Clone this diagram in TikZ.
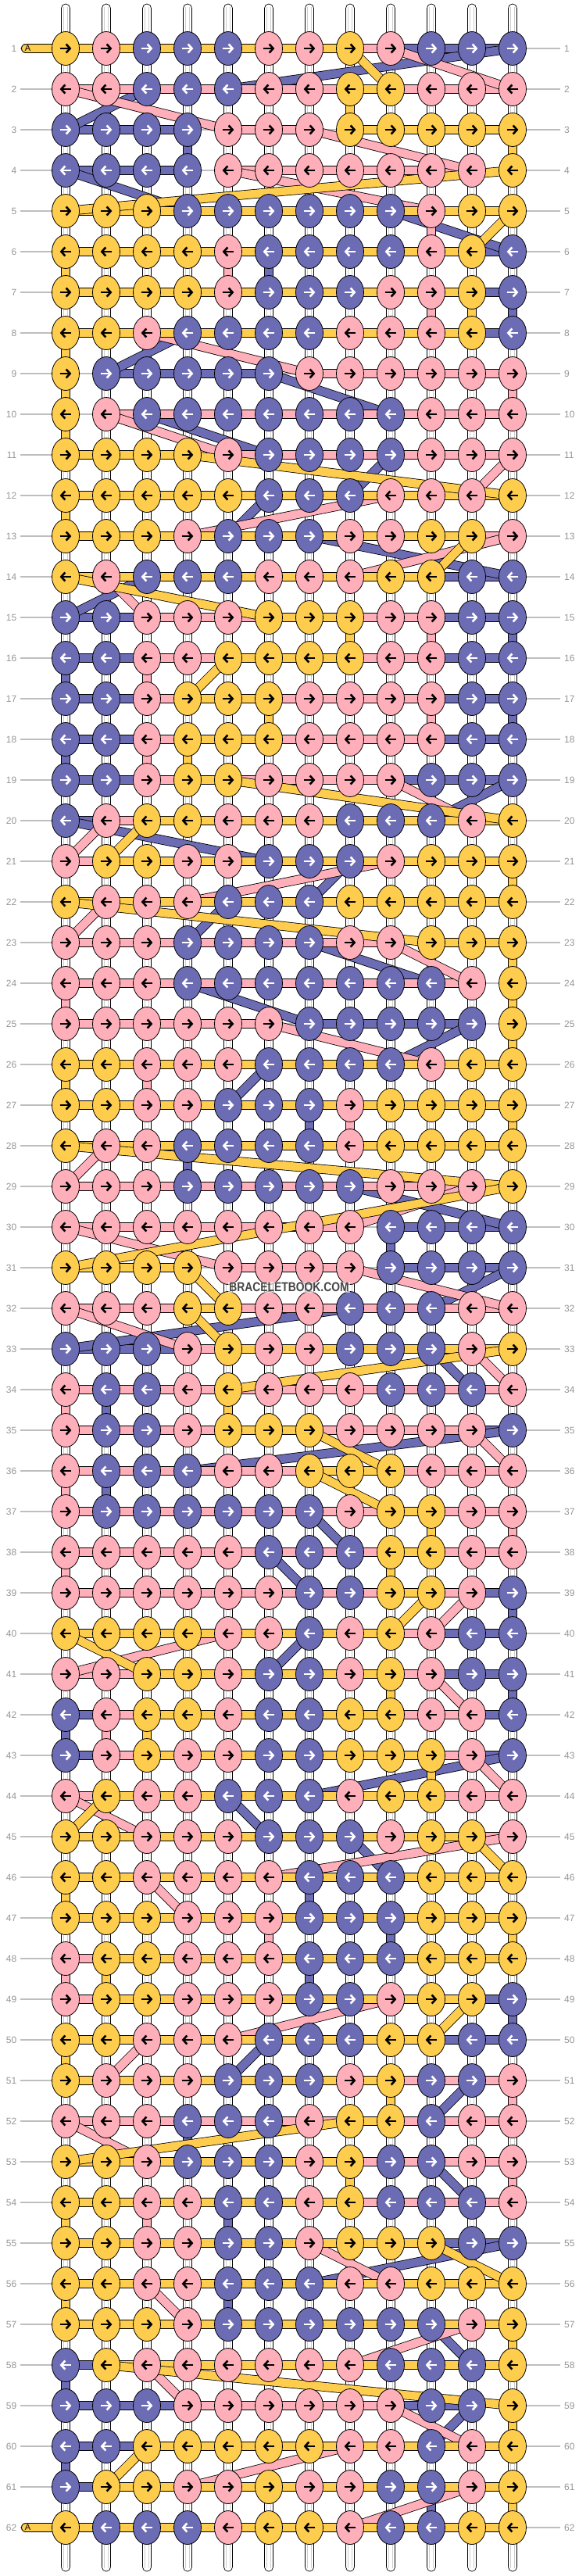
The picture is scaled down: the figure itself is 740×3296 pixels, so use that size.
\documentclass[tikz,border=0pt]{standalone}
\usepackage{fontspec}
\setmainfont{Liberation Sans}
\usetikzlibrary{arrows.meta,shapes.geometric}
\definecolor{cY}{RGB}{255,205,78}
\definecolor{cP}{RGB}{255,175,186}
\definecolor{cB}{RGB}{108,108,181}
\colorlet{aY}{black}\colorlet{aP}{black}\colorlet{aB}{white}
\definecolor{labgray}{RGB}{150,150,150}
\definecolor{linegray}{RGB}{190,190,190}
\definecolor{tubegray}{RGB}{205,205,205}
\definecolor{wmgray}{RGB}{70,70,70}
\pgfdeclarelayer{back}\pgfdeclarelayer{strands}
\pgfsetlayers{back,strands,main}
\newcommand\defknotrow[2]{\expandafter\def\csname KR#1\endcsname{#2}}
\newcommand\drawstrand[3]{%
  \draw[strandout] (#2.center) -- (#3.center);
  \draw[strandin,#1] (#2.center) -- (#3.center);}
\newcommand\wmtext{\scalebox{0.84}[1]{BRACELETBOOK.COM}}
\defknotrow{1}{Y,P,B,B,B,P,P,Y,P,B,B,B}
\defknotrow{2}{P,P,B,B,B,P,P,Y,Y,P,P,P}
\defknotrow{3}{B,B,B,B,P,P,P,Y,Y,Y,Y,Y}
\defknotrow{4}{B,B,B,B,P,P,P,P,P,P,P,Y}
\defknotrow{5}{Y,Y,Y,B,B,B,B,B,B,P,Y,Y}
\defknotrow{6}{Y,Y,Y,Y,P,B,B,B,B,P,Y,B}
\defknotrow{7}{Y,Y,Y,Y,P,B,B,B,P,P,Y,B}
\defknotrow{8}{Y,Y,P,B,B,B,B,P,P,P,Y,B}
\defknotrow{9}{Y,B,B,B,B,B,P,P,P,P,P,P}
\defknotrow{10}{Y,P,B,B,B,B,B,B,B,P,P,P}
\defknotrow{11}{Y,Y,Y,Y,P,B,B,B,B,P,P,P}
\defknotrow{12}{Y,Y,Y,Y,Y,B,B,B,P,P,P,Y}
\defknotrow{13}{Y,Y,Y,P,B,B,B,P,P,Y,Y,P}
\defknotrow{14}{Y,P,B,B,B,P,P,P,Y,Y,B,B}
\defknotrow{15}{B,B,P,P,P,Y,Y,Y,P,P,B,B}
\defknotrow{16}{B,B,P,P,Y,Y,Y,Y,P,P,B,B}
\defknotrow{17}{B,B,P,Y,Y,Y,P,P,P,P,B,B}
\defknotrow{18}{B,B,P,Y,Y,Y,P,P,P,P,B,B}
\defknotrow{19}{B,B,P,Y,Y,P,P,P,P,B,B,B}
\defknotrow{20}{B,P,Y,Y,P,P,P,B,B,B,P,Y}
\defknotrow{21}{P,Y,Y,P,P,B,B,B,P,Y,Y,Y}
\defknotrow{22}{Y,P,P,P,B,B,B,Y,Y,Y,Y,Y}
\defknotrow{23}{P,P,P,B,B,B,B,P,P,Y,Y,Y}
\defknotrow{24}{P,P,P,B,B,B,B,B,B,B,P,Y}
\defknotrow{25}{P,P,P,P,P,P,B,B,B,B,B,Y}
\defknotrow{26}{Y,Y,P,P,P,B,B,B,B,P,Y,Y}
\defknotrow{27}{Y,Y,P,P,B,B,B,P,Y,Y,Y,Y}
\defknotrow{28}{Y,P,P,B,B,B,B,P,Y,Y,Y,Y}
\defknotrow{29}{P,P,P,B,B,B,B,B,P,P,P,Y}
\defknotrow{30}{P,P,P,P,P,P,P,P,B,B,B,B}
\defknotrow{31}{Y,Y,Y,Y,P,P,P,P,B,B,B,B}
\defknotrow{32}{P,P,P,Y,Y,P,P,B,B,B,P,P}
\defknotrow{33}{B,B,B,P,Y,P,P,B,B,B,P,Y}
\defknotrow{34}{P,B,B,P,Y,P,P,P,B,B,B,P}
\defknotrow{35}{P,B,B,P,Y,Y,Y,P,P,P,P,B}
\defknotrow{36}{P,B,B,B,P,P,Y,Y,Y,P,P,P}
\defknotrow{37}{P,B,B,B,B,B,B,P,Y,Y,P,P}
\defknotrow{38}{P,P,P,P,P,B,B,B,Y,Y,P,P}
\defknotrow{39}{P,P,P,P,P,P,B,B,Y,Y,P,B}
\defknotrow{40}{Y,Y,Y,Y,P,P,B,P,Y,P,B,B}
\defknotrow{41}{P,P,Y,Y,P,B,B,P,Y,P,B,B}
\defknotrow{42}{B,P,Y,Y,P,B,B,Y,Y,P,P,B}
\defknotrow{43}{B,P,Y,P,P,B,B,Y,Y,Y,P,B}
\defknotrow{44}{P,Y,P,P,B,B,B,P,Y,Y,P,P}
\defknotrow{45}{Y,Y,P,P,P,B,B,B,P,Y,Y,P}
\defknotrow{46}{Y,Y,P,P,P,P,B,B,B,Y,Y,Y}
\defknotrow{47}{Y,Y,Y,P,P,P,B,B,B,Y,Y,Y}
\defknotrow{48}{P,Y,Y,P,P,P,B,B,B,Y,Y,Y}
\defknotrow{49}{P,Y,Y,P,P,P,B,B,P,Y,Y,B}
\defknotrow{50}{Y,Y,P,P,P,B,B,B,Y,Y,B,B}
\defknotrow{51}{Y,P,P,P,B,B,B,P,Y,B,B,P}
\defknotrow{52}{P,P,P,B,B,B,P,Y,Y,B,P,P}
\defknotrow{53}{Y,Y,P,B,B,B,P,Y,B,B,P,P}
\defknotrow{54}{Y,Y,P,P,B,B,P,Y,B,B,B,P}
\defknotrow{55}{Y,Y,P,P,B,B,P,Y,Y,Y,B,B}
\defknotrow{56}{Y,Y,P,P,B,B,B,P,P,Y,Y,Y}
\defknotrow{57}{Y,Y,Y,P,B,B,B,B,B,B,P,Y}
\defknotrow{58}{B,Y,P,P,P,P,P,P,B,B,B,Y}
\defknotrow{59}{B,B,B,P,P,P,P,P,P,B,B,Y}
\defknotrow{60}{B,B,Y,Y,Y,Y,Y,P,P,B,P,Y}
\defknotrow{61}{B,Y,Y,P,P,Y,P,P,B,B,P,Y}
\defknotrow{62}{Y,B,B,B,P,Y,Y,P,B,B,Y,Y}
\begin{document}
\begin{tikzpicture}[x=1pt,y=-1pt,
  knot/.style={ellipse,draw=black,line width=0.8pt,minimum width=35pt,minimum height=43pt,inner sep=0pt},
  arr/.style={line width=2.6pt,-{Straight Barb[length=5pt,width=11pt]}},
  lab/.style={font=\fontsize{12}{12}\selectfont,text=labgray,inner sep=0pt},
  rowline/.style={draw=linegray,line width=1.1pt},
  tube/.style={draw=black,fill=white,line width=0.7pt,rounded corners=5.4pt},
  tubein/.style={draw=tubegray,line width=0.6pt},
  strandout/.style={line width=12pt,draw=black},
  strandin/.style={line width=10.4pt},
  wm/.style={font=\bfseries\fontsize{16.5}{16.5}\selectfont,text=wmgray,fill=white,fill opacity=0.6,text opacity=1,inner xsep=1pt,inner ysep=1pt}]
\useasboundingbox (0,0) rectangle (740,3296);
% pass 1: first and last column of each colour in each row
\foreach \kr in {1,...,62}{%
  \foreach \X in {Y,P,B}{%
    \expandafter\xdef\csname mn\X\kr\endcsname{0}%
    \expandafter\xdef\csname mx\X\kr\endcsname{0}}%
  \expandafter\let\expandafter\krow\csname KR\kr\endcsname
  \foreach \k [count=\kc] in \krow {%
    \ifnum\csname mn\k\kr\endcsname=0\relax
      \expandafter\xdef\csname mn\k\kr\endcsname{\kc}%
    \fi
    \expandafter\xdef\csname mx\k\kr\endcsname{\kc}%
  }%
}
\begin{pgfonlayer}{back}
\fill[white] (0,0) rectangle (740,3296);
\foreach \kc in {1,...,12}{%
  \pgfmathsetmacro\xx{84+52*(\kc-1)}
  \coordinate (tt-\kc) at (\xx,5);
  \coordinate (tb-\kc) at (\xx,3290);
  \draw[tube] ([xshift=-5.5pt]tt-\kc) rectangle ([xshift=5.5pt]tb-\kc);
  \draw[tubein] ([xshift=-2.6pt,yshift=-4pt]tt-\kc) -- ([xshift=-2.6pt,yshift=4pt]tb-\kc);
  \draw[tubein] ([xshift=2.6pt,yshift=-4pt]tt-\kc) -- ([xshift=2.6pt,yshift=4pt]tb-\kc);
}
\end{pgfonlayer}
% row labels and row lines
\foreach \kr in {1,...,62}{%
  \pgfmathsetmacro\yy{62+52*(\kr-1)}
  \node[lab,anchor=east] (ll-\kr) at (21.5,\yy) {\kr};
  \node[lab,anchor=west] (rl-\kr) at (722,\yy) {\kr};
  \begin{pgfonlayer}{back}
  \draw[rowline] ([xshift=4.5pt]ll-\kr.east) -- ([xshift=-5pt]rl-\kr.west);
  \end{pgfonlayer}
}
% knots
\foreach \kr in {1,...,62}{%
  \expandafter\let\expandafter\krow\csname KR\kr\endcsname
  \foreach \k [count=\kc] in \krow {%
    \node[knot,fill=c\k] (k-\kr-\kc) at ({84+52*(\kc-1)},{62+52*(\kr-1)}) {};
    \ifodd\kr\relax
      \draw[arr,a\k] ([xshift=-7.4pt]k-\kr-\kc.center) -- ([xshift=7.4pt]k-\kr-\kc.center);
    \else
      \draw[arr,a\k] ([xshift=7.4pt]k-\kr-\kc.center) -- ([xshift=-7.4pt]k-\kr-\kc.center);
    \fi
  }%
}
\coordinate (tabtop) at (33,62);
\coordinate (tabbot) at (33,3234);
\node[font=\fontsize{11}{11}\selectfont,inner sep=0pt] (tA1) at (35.5,62) {A};
\node[font=\fontsize{11}{11}\selectfont,inner sep=0pt] (tA62) at (35.5,3234) {A};
% threads
\begin{pgfonlayer}{strands}
\foreach \X in {B,P,Y}{%
  \xdef\lastk{}%
  \foreach \kr in {1,...,62}{%
    \edef\kmn{\csname mn\X\kr\endcsname}%
    \edef\kmx{\csname mx\X\kr\endcsname}%
    \ifnum\kmn>0\relax
      \ifnum\kmn<\kmx\relax \drawstrand{c\X}{k-\kr-\kmn}{k-\kr-\kmx}\fi
      \ifodd\kr\relax \edef\kfst{\kmn}\edef\klst{\kmx}\else \edef\kfst{\kmx}\edef\klst{\kmn}\fi
      \ifx\lastk\empty\else \drawstrand{c\X}{\lastk}{k-\kr-\kfst}\fi
      \xdef\lastk{k-\kr-\klst}%
    \fi
  }%
}
\draw[strandout,line cap=round] (tabtop) -- (k-1-1.center);
\draw[strandin,cY,line cap=round] (tabtop) -- (k-1-1.center);
\draw[strandout,line cap=round] (tabbot) -- (k-62-1.center);
\draw[strandin,cY,line cap=round] (tabbot) -- (k-62-1.center);
\end{pgfonlayer}
% watermark
\node[wm] (wm) at (370,1647) {\wmtext};
\end{tikzpicture}
\end{document}
